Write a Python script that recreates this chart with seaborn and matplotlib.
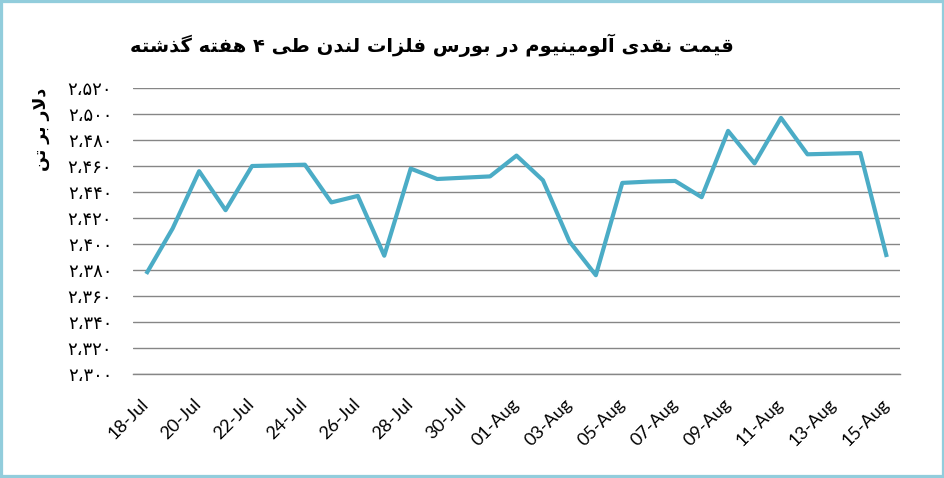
import numpy as np
import pandas as pd
import matplotlib
matplotlib.use("Agg")
import matplotlib.pyplot as plt
import seaborn as sns
from matplotlib.patches import Rectangle
from matplotlib.ticker import FixedLocator

# LME aluminium cash price, last 4 weeks
DATES = ["2021-07-18", "2021-07-19", "2021-07-20", "2021-07-21", "2021-07-22",
         "2021-07-24", "2021-07-25", "2021-07-26", "2021-07-27", "2021-07-28",
         "2021-07-29", "2021-07-31", "2021-08-01", "2021-08-02", "2021-08-03",
         "2021-08-04", "2021-08-05", "2021-08-06", "2021-08-07", "2021-08-08",
         "2021-08-09", "2021-08-10", "2021-08-11", "2021-08-12", "2021-08-14",
         "2021-08-15"]
PRICES = [2377, 2412, 2456, 2426, 2460,
          2461, 2432, 2437, 2391, 2458,
          2450, 2452, 2468, 2449, 2402,
          2376, 2447, 2448, 2448.5, 2436,
          2487, 2462, 2497, 2469, 2470,
          2390]
TICK_LABELS = ["18-Jul", "20-Jul", "22-Jul", "24-Jul", "26-Jul", "28-Jul",
               "30-Jul", "01-Aug", "03-Aug", "05-Aug", "07-Aug", "09-Aug",
               "11-Aug", "13-Aug", "15-Aug"]
Y_TICKS = list(range(2300, 2521, 20))
TITLE = "قیمت نقدی آلومینیوم در بورس فلزات لندن طی ۴ هفته گذشته"
Y_LABEL = "دلار بر تن"

LINE_COLOR = "#4bacc6"
GRID_COLOR = "#868686"
FRAME_COLOR = "#92cddc"
FA_FONT = ["DejaVu Sans"]

# --- tiny Persian shaper: matplotlib has no bidi / contextual shaping ---
FORMS = {  # iso, fin, ini, med
    "ب": "\ufe8f\ufe90\ufe91\ufe92", "ت": "\ufe95\ufe96\ufe97\ufe98",
    "س": "\ufeb1\ufeb2\ufeb3\ufeb4", "ش": "\ufeb5\ufeb6\ufeb7\ufeb8",
    "ط": "\ufec1\ufec2\ufec3\ufec4", "ف": "\ufed1\ufed2\ufed3\ufed4",
    "ق": "\ufed5\ufed6\ufed7\ufed8", "ل": "\ufedd\ufede\ufedf\ufee0",
    "م": "\ufee1\ufee2\ufee3\ufee4", "ن": "\ufee5\ufee6\ufee7\ufee8",
    "ه": "\ufee9\ufeea\ufeeb\ufeec", "ی": "\ufbfc\ufbfd\ufbfe\ufbff",
    "گ": "\ufb92\ufb93\ufb94\ufb95",
    "ا": "\ufe8d\ufe8e", "آ": "\ufe81\ufe82", "د": "\ufea9\ufeaa",
    "ذ": "\ufeab\ufeac", "ر": "\ufead\ufeae", "ز": "\ufeaf\ufeb0",
    "و": "\ufeed\ufeee",
}
LAM_ALEF = {"ا": "\ufefb\ufefc", "آ": "\ufef5\ufef6"}


def shape_fa(text):
    out = []
    prev_joins = False
    i = 0
    while i < len(text):
        c = text[i]
        nxt = text[i + 1] if i + 1 < len(text) else ""
        if c == "ل" and nxt in LAM_ALEF:
            out.append(LAM_ALEF[nxt][1 if prev_joins else 0])
            prev_joins = False
            i += 2
            continue
        if c not in FORMS:
            out.append(c)
            prev_joins = False
            i += 1
            continue
        f = FORMS[c]
        dual = len(f) == 4
        next_joins = dual and nxt in FORMS
        if prev_joins and next_joins:
            out.append(f[3])
        elif prev_joins:
            out.append(f[1])
        elif next_joins:
            out.append(f[2])
        else:
            out.append(f[0])
        prev_joins = next_joins
        i += 1
    return "".join(reversed(out))


def fa_num(v):
    digits = str.maketrans("0123456789,", "۰۱۲۳۴۵۶۷۸۹،")
    return f"{v:,}".translate(digits)


dates = pd.to_datetime(DATES)
start = pd.Timestamp("2021-07-18")
df = pd.DataFrame({
    "pos": (dates - start).days + 0.5,
    "price": PRICES,
})

sns.set_style("white")
plt.rcParams["font.family"] = ["Lato", "DejaVu Sans"]
plt.rcParams["text.color"] = "black"
plt.rcParams["axes.labelcolor"] = "black"
plt.rcParams["xtick.labelcolor"] = "black"
plt.rcParams["ytick.labelcolor"] = "black"

fig = plt.figure(figsize=(9.45, 4.78), dpi=100)
ax = fig.add_axes([133 / 945, 1 - 374 / 478, 767 / 945, 286 / 478])

sns.lineplot(data=df, x="pos", y="price", color=LINE_COLOR, linewidth=3.0,
             ax=ax, solid_joinstyle="round", solid_capstyle="butt", zorder=3)

ax.set_xlim(0, 29)
ax.set_ylim(2300, 2520)

ax.set_yticks(Y_TICKS)
ax.set_yticklabels([fa_num(v) for v in Y_TICKS], family=FA_FONT,
                   fontsize=13)
ax.tick_params(axis="y", length=0, pad=15, labelcolor="black")
ax.grid(axis="y", color=GRID_COLOR, linewidth=1.0)

ax.xaxis.set_major_locator(FixedLocator(np.arange(0, 29, 2)))
ax.xaxis.set_minor_locator(FixedLocator(np.arange(0, 29, 2) + 0.5))
ax.set_xticklabels([], minor=False)
ax.set_xticklabels(TICK_LABELS, minor=True, rotation=45, ha="right",
                   va="center", rotation_mode="anchor", fontsize=13)
ax.tick_params(axis="x", which="major", length=6, width=1, color=GRID_COLOR,
               direction="out")
ax.tick_params(axis="x", which="minor", length=0, pad=20, labelcolor="black")

for side in ["left", "right", "top"]:
    ax.spines[side].set_visible(False)
ax.spines["bottom"].set_color(GRID_COLOR)
ax.spines["bottom"].set_linewidth(1.0)

ax.set_xlabel("")
ax.set_ylabel(shape_fa(Y_LABEL), family=FA_FONT, fontsize=12.5,
              rotation=90, weight="bold", color="black")
ax.yaxis.set_label_coords(-0.108, 0.857)

fig.text(0.457, 0.905, shape_fa(TITLE), family=FA_FONT, color="black",
         weight="bold", fontsize=14, ha="center", va="center")

fig.patches.append(Rectangle((0, 0), 1, 1, transform=fig.transFigure,
                             fill=False, edgecolor=FRAME_COLOR, linewidth=4.5))

fig.savefig("out.png", dpi=100, facecolor="white")
